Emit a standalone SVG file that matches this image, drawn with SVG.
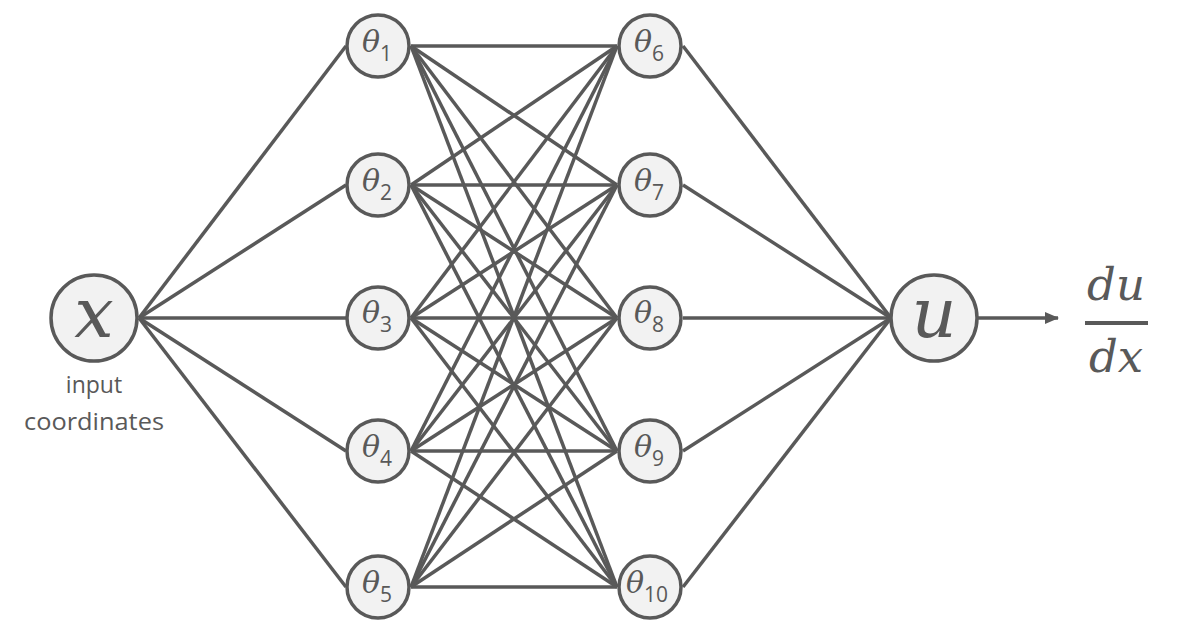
<svg xmlns="http://www.w3.org/2000/svg" width="1200" height="633" viewBox="0 0 1200 633">
<defs>
<style>
.e{stroke:#595959;stroke-width:3.5;fill:none}
.n{fill:#f2f2f2;stroke:#595959;stroke-width:3.5}
.th{font-family:"DejaVu Serif","Liberation Serif",serif;font-style:italic;font-size:30px;fill:#595959}
.sb{font-family:"Open Sans","Liberation Sans",sans-serif;font-style:normal;font-size:21px}
.big{font-family:"DejaVu Serif","Liberation Serif",serif;font-style:italic;fill:#595959}
.lbl{font-family:"Open Sans","Liberation Sans",sans-serif;font-size:23px;fill:#595959;text-anchor:middle}
</style>
<marker id="ah" markerWidth="14" markerHeight="12" refX="13" refY="6" orient="auto" markerUnits="userSpaceOnUse" viewBox="0 0 14 12">
<path d="M0,0 L14,6 L0,12 z" fill="#595959"/>
</marker>
</defs>
<rect width="1200" height="633" fill="#ffffff"/>
<g id="connectors">
<line class="e" x1="139" y1="318" x2="346" y2="46"/>
<line class="e" x1="139" y1="318" x2="346" y2="185"/>
<line class="e" x1="139" y1="318" x2="346" y2="318"/>
<line class="e" x1="139" y1="318" x2="346" y2="451"/>
<line class="e" x1="139" y1="318" x2="346" y2="587"/>
<line class="e" x1="411" y1="46" x2="617" y2="46"/>
<line class="e" x1="411" y1="46" x2="617" y2="185"/>
<line class="e" x1="411" y1="46" x2="617" y2="318"/>
<line class="e" x1="411" y1="46" x2="617" y2="451"/>
<line class="e" x1="411" y1="46" x2="617" y2="587"/>
<line class="e" x1="411" y1="185" x2="617" y2="46"/>
<line class="e" x1="411" y1="185" x2="617" y2="185"/>
<line class="e" x1="411" y1="185" x2="617" y2="318"/>
<line class="e" x1="411" y1="185" x2="617" y2="451"/>
<line class="e" x1="411" y1="185" x2="617" y2="587"/>
<line class="e" x1="411" y1="318" x2="617" y2="46"/>
<line class="e" x1="411" y1="318" x2="617" y2="185"/>
<line class="e" x1="411" y1="318" x2="617" y2="318"/>
<line class="e" x1="411" y1="318" x2="617" y2="451"/>
<line class="e" x1="411" y1="318" x2="617" y2="587"/>
<line class="e" x1="411" y1="451" x2="617" y2="46"/>
<line class="e" x1="411" y1="451" x2="617" y2="185"/>
<line class="e" x1="411" y1="451" x2="617" y2="318"/>
<line class="e" x1="411" y1="451" x2="617" y2="451"/>
<line class="e" x1="411" y1="451" x2="617" y2="587"/>
<line class="e" x1="411" y1="587" x2="617" y2="46"/>
<line class="e" x1="411" y1="587" x2="617" y2="185"/>
<line class="e" x1="411" y1="587" x2="617" y2="318"/>
<line class="e" x1="411" y1="587" x2="617" y2="451"/>
<line class="e" x1="411" y1="587" x2="617" y2="587"/>
<line class="e" x1="683" y1="46" x2="891" y2="318"/>
<line class="e" x1="683" y1="185" x2="891" y2="318"/>
<line class="e" x1="683" y1="318" x2="891" y2="318"/>
<line class="e" x1="683" y1="451" x2="891" y2="318"/>
<line class="e" x1="683" y1="587" x2="891" y2="318"/>
<line class="e" x1="977" y1="318" x2="1058" y2="318" marker-end="url(#ah)"/>
</g>
<g id="node-x">
<circle class="n" cx="94" cy="318" r="43"/>
<text class="big" x="94" y="337" font-size="70" text-anchor="middle">x</text>
<text class="lbl" x="94" y="393">input</text>
<text class="lbl" x="94" y="430" textLength="140" lengthAdjust="spacingAndGlyphs">coordinates</text>
</g>
<g id="node-t1"><circle class="n" cx="378" cy="46" r="31"/><text class="th" x="362" y="52">θ<tspan class="sb" dy="9">1</tspan></text></g>
<g id="node-t2"><circle class="n" cx="378" cy="185" r="31"/><text class="th" x="362" y="191">θ<tspan class="sb" dy="9">2</tspan></text></g>
<g id="node-t3"><circle class="n" cx="378" cy="318" r="31"/><text class="th" x="362" y="323">θ<tspan class="sb" dy="9">3</tspan></text></g>
<g id="node-t4"><circle class="n" cx="378" cy="451" r="31"/><text class="th" x="362" y="457">θ<tspan class="sb" dy="9">4</tspan></text></g>
<g id="node-t5"><circle class="n" cx="378" cy="587" r="31"/><text class="th" x="362" y="593">θ<tspan class="sb" dy="9">5</tspan></text></g>
<g id="node-t6"><circle class="n" cx="650" cy="46" r="31"/><text class="th" x="634" y="52">θ<tspan class="sb" dy="9">6</tspan></text></g>
<g id="node-t7"><circle class="n" cx="650" cy="185" r="31"/><text class="th" x="634" y="191">θ<tspan class="sb" dy="9">7</tspan></text></g>
<g id="node-t8"><circle class="n" cx="650" cy="318" r="31"/><text class="th" x="634" y="323">θ<tspan class="sb" dy="9">8</tspan></text></g>
<g id="node-t9"><circle class="n" cx="650" cy="451" r="31"/><text class="th" x="634" y="457">θ<tspan class="sb" dy="9">9</tspan></text></g>
<g id="node-t10"><circle class="n" cx="650" cy="587" r="31"/><text class="th" x="626" y="593">θ<tspan class="sb" dy="9">10</tspan></text></g>
<g id="node-u">
<circle class="n" cx="934" cy="318" r="43"/>
<text class="big" x="934" y="337" font-size="70" text-anchor="middle">u</text>
</g>
<g id="output-dudx">
<text class="big" x="1116" y="300" font-size="45" text-anchor="middle">du</text>
<line x1="1085" y1="323" x2="1148" y2="323" stroke="#595959" stroke-width="4"/>
<text class="big" x="1116" y="372" font-size="45" text-anchor="middle">dx</text>
</g>
</svg>
